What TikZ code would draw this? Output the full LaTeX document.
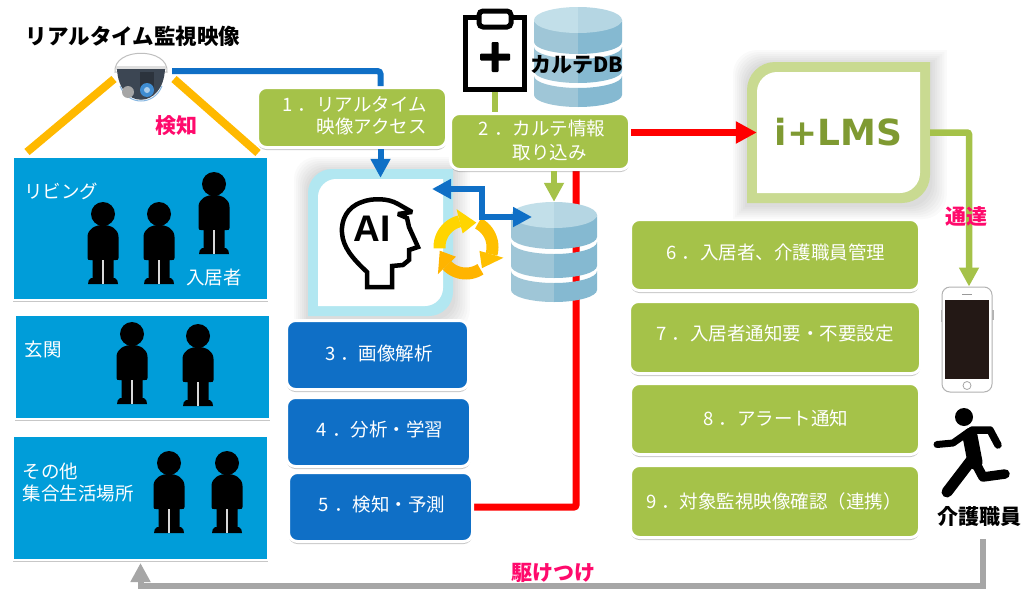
\documentclass[tikz,border=0pt]{standalone}
\usepackage{fontspec}
\setmainfont{Noto Sans CJK JP}
\newfontfamily\lmsfont{DejaVu Sans}
\newfontfamily\aifont{Liberation Sans}
\usetikzlibrary{arrows.meta,shadows,calc}
\pgfdeclarelayer{back}
\pgfsetlayers{back,main}
\definecolor{cgreen}{HTML}{A5C249}
\definecolor{cblue}{HTML}{0F6FC6}
\definecolor{croom}{HTML}{009DD9}
\definecolor{cpink}{HTML}{FF0A6C}
\definecolor{cai}{HTML}{B2E7F1}
\definecolor{clms}{HTML}{C9DA91}
\definecolor{clmstext}{HTML}{7F9A32}
\definecolor{cgray}{HTML}{A6A6A6}
\definecolor{corange}{HTML}{FFB900}
\definecolor{cring}{HTML}{FFD500}
\definecolor{cringb}{HTML}{FFC000}
\definecolor{cringc}{HTML}{FFB400}
\definecolor{cscreen}{HTML}{231815}
\definecolor{cdome}{HTML}{3C4653}
\definecolor{cdomeb}{HTML}{2C333D}
\definecolor{dbtopl}{HTML}{C2DFE9}
\definecolor{dbtopr}{HTML}{B5D6E3}
\definecolor{dbl}{HTML}{9FC6D7}
\definecolor{dbr}{HTML}{85B9D1}
\tikzset{
  boxbase/.style={rounded corners=9pt,draw=white,line width=3pt,inner sep=0pt,text=white,
    font=\fontsize{18.5}{23}\selectfont,align=center,
    drop shadow={shadow xshift=0pt,shadow yshift=-2.5pt,fill=black,opacity=.22}},
  greenbox/.style={boxbase,fill=cgreen},
  bluebox/.style={boxbase,fill=cblue},
  roombox/.style={draw=white,line width=2pt,fill=croom,inner sep=0pt,
    drop shadow={shadow xshift=0pt,shadow yshift=-2pt,fill=black,opacity=.22}},
  roomtext/.style={text=white,inner sep=0pt,align=left,font=\fontsize{18.5}{22}\selectfont},
  pinktext/.style={text=cpink,inner sep=0pt,font=\fontsize{21}{24}\selectfont\bfseries},
  blacktext/.style={text=black,inner sep=0pt,font=\fontsize{21}{24}\selectfont\bfseries},
  blueline/.style={draw=cblue,line width=6pt},
  greenline/.style={draw=cgreen,line width=6.5pt},
  redline/.style={draw=red,line width=7pt},
  grayline/.style={draw=cgray,line width=6pt},
  orangeline/.style={draw=corange,line width=8pt},
  bighead/.style={-{Triangle[length=19pt,width=19pt]}},
  person/.pic={
    \fill[black] (0,0) circle [radius=12];
    \fill[black] (-15.5,44) -- (-15.5,23) .. controls (-15.5,15) and (-8,11) .. (0,11)
      .. controls (8,11) and (15.5,15) .. (15.5,23) -- (15.5,44) .. controls (15.5,46) and (14,46) .. (13,46)
      -- (10.5,46) -- (10.5,64) -- (12,64) .. controls (14,65) and (15,67) .. (15,70)
      -- (-15,70) .. controls (-15,67) and (-14,65) .. (-12,64) -- (-10.5,64) -- (-10.5,46)
      -- (-13,46) .. controls (-14,46) and (-15.5,46) .. (-15.5,44) -- cycle;
    \fill[gray!30] (-.6,46) rectangle (.6,70);
  }
}
\newcommand\leafshape[6]{%
  \path[#6] ({#1+#5},#2) -- (#3,#2) -- (#3,{#4-#5})
    .. controls (#3,{#4-.45*#5}) and ({#3-.45*#5},#4) .. ({#3-#5},#4)
    -- (#1,#4) -- (#1,{#2+#5})
    .. controls (#1,{#2+.45*#5}) and ({#1+.45*#5},#2) .. cycle;}
\newcommand\softshadow[5]{%
  \foreach \sh in {1,...,7}{%
    \leafshape{#1-2*\sh}{#2-2*\sh+2}{#3+2.4*\sh}{#4+2*\sh+2}{#5}{fill=black,fill opacity=.02}}}
\newcommand\dbslice[5]{%
  \fill[dbl] ({#1-#2},#4) -- ({#1-#2},#5) .. controls ({#1-#2},{#5+.55*#3}) and ({#1-.55*#2},{#5+#3}) .. (#1,{#5+#3})
    -- (#1,{#4+#3}) .. controls ({#1-.55*#2},{#4+#3}) and ({#1-#2},{#4+.55*#3}) .. cycle;
  \fill[dbr] ({#1+#2},#4) -- ({#1+#2},#5) .. controls ({#1+#2},{#5+.55*#3}) and ({#1+.55*#2},{#5+#3}) .. (#1,{#5+#3})
    -- (#1,{#4+#3}) .. controls ({#1+.55*#2},{#4+#3}) and ({#1+#2},{#4+.55*#3}) .. cycle;}
\newcommand\dbtop[4]{%
  \begin{scope}\clip ({#1-#2-1},{#3-#4-1}) rectangle (#1,{#3+#4+1});
    \fill[dbtopl] (#1,#3) ellipse [x radius=#2,y radius=#4];\end{scope}
  \begin{scope}\clip (#1,{#3-#4-1}) rectangle ({#1+#2+1},{#3+#4+1});
    \fill[dbtopr] (#1,#3) ellipse [x radius=#2,y radius=#4];\end{scope}}
\newcommand\ringarrow[4]{%
  \draw[#4,line width=12pt] plot[domain=#1:#2,samples=16] ({466+26.5*cos(\x)},{247+26.5*sin(\x)});
  \fill[#4] ({466+14*cos(#2)},{247+14*sin(#2)}) -- ({466+39*cos(#2)},{247+39*sin(#2)})
    -- ({466+26.5*cos(#3)},{247+26.5*sin(#3)}) -- cycle;}
\begin{document}
\begin{tikzpicture}[x=1pt,y=-1pt]
\useasboundingbox (0,0) rectangle (1024,589);
\begin{pgfonlayer}{back}
  \fill[white] (0,0) rectangle (1024,589);
\end{pgfonlayer}

% rooms
\node[roombox,minimum width=255pt,minimum height=143pt] (room1) at (140.5,228.5) {};
\node[roombox,minimum width=255pt,minimum height=104pt] (room2) at (142.5,367) {};
\node[roombox,minimum width=255pt,minimum height=124pt] (room3) at (140.5,498) {};
\pic at (103,214) {person};
\pic at (159,214) {person};
\pic at (214,184) {person};
\pic at (132,334) {person};
\pic at (198,336) {person};
\pic at (169,463) {person};
\pic at (227,463) {person};
\node[roomtext,anchor=west] (lblliving) at (24,191) {リビング};
\node[roomtext] (lblresident) at (214,277) {入居者};
\node[roomtext,anchor=west] (lblentry) at (24.5,350) {玄関};
\node[roomtext,anchor=west] (lblother) at (22.5,483) {その他\\集合生活場所};

% title and camera
\node[blacktext,font=\fontsize{21.5}{24}\selectfont\bfseries] (title) at (133,36) {リアルタイム監視映像};
\node[inner sep=0pt,minimum width=54pt,minimum height=48pt] (camera) at (141,78) {};
\draw[draw=gray!50,fill=white,line width=1pt] (115,72) .. controls (113,47) and (169,47) .. (167,72) -- cycle;
\fill[gray!25] (116,66) rectangle (166,70);
\fill[cdome] (117,69) .. controls (119,110) and (163,110) .. (165,69) -- cycle;
\draw[draw=cblue!50,line width=1pt] (120,86) .. controls (128,106) and (154,106) .. (162,86);
\fill[cdomeb] (140,72) rectangle (154,88);
\fill[gray!70] (128,92) circle [radius=6];
\fill[cblue!80] (147,90) circle [radius=7];
\fill[cblue!35] (147,90) circle [radius=3];

\coordinate (camport) at (172,71);
\coordinate (viewLa) at (114,79);
\coordinate (viewLb) at (27,152);
\coordinate (viewRa) at (174,79);
\coordinate (viewRb) at (258,153);
\draw[orangeline] (viewLa) -- (viewLb);
\draw[orangeline] (viewRa) -- (viewRb);
\node[pinktext] (lbldetect) at (176,126) {検知};

% AI box
\softshadow{308}{169}{453}{316}{22}
\leafshape{308}{169}{453}{316}{24}{fill=cai}
\leafshape{318}{179}{443}{306}{18}{fill=white}
\node[inner sep=0pt,minimum width=145pt,minimum height=147pt] (ai) at (380.5,242.5) {};
\draw[black,line width=4.5pt,line join=miter,miter limit=3]
  (367,287) -- (392,287) -- (392,266) -- (403,265) -- (409,260) -- (409,250) -- (418,247) -- (409,227)
  -- (407,218) -- (398,214) -- (412,212) -- (398,204)
  .. controls (388,198) and (372,198) .. (362,202) .. controls (347,207) and (341,220) .. (342,233)
  .. controls (343,247) and (352,258) .. (367,272) -- cycle;
\node[inner sep=0pt,text=black,font=\aifont\bfseries\fontsize{37}{37}\selectfont] (aitext) at (372,229) {AI};

\ringarrow{177}{256}{293}{cring}
\ringarrow{297}{376}{413}{cringb}
\ringarrow{57}{136}{172}{cringc}

% databases
\node[inner sep=0pt,minimum width=86pt,minimum height=100pt] (db2) at (554,252) {};
\dbslice{554}{43}{12}{215}{237}
\dbslice{554}{43}{12}{242}{266}
\dbslice{554}{43}{12}{271}{290}
\dbtop{554}{43}{215}{13}
\node[inner sep=0pt,minimum width=88pt,minimum height=100pt] (db1) at (578,57) {};
\dbslice{578}{44}{12}{20}{42}
\dbslice{578}{44}{12}{47}{71}
\dbslice{578}{44}{12}{76}{95}
\dbtop{578}{44}{20}{13}

% clipboard
\node[inner sep=0pt,minimum width=64pt,minimum height=77pt] (clip) at (495,53.5) {};
\draw[black,line width=5pt] (clip.north west) ++(2.5,2.5) rectangle ($(clip.south east)+(-2.5,-2.5)$);
\draw[black,fill=white,line width=5pt,rounded corners=4pt] (479,11) rectangle (511,27);
\fill[black,rounded corners=1pt] (480,53.5) rectangle (510,60.5);
\fill[black,rounded corners=1pt] (491.5,42) rectangle (498.5,72);

% process boxes
\node[greenbox,minimum width=189pt,minimum height=60pt] (b1) at (352,117.5) {};
\node[anchor=east,inner sep=0pt,text=white,align=right,font=\fontsize{18.5}{22}\selectfont] (b1text) at (427,116) {1\kern5pt．リアルタイム\\映像アクセス};
\node[greenbox,minimum width=179pt,minimum height=56pt] (b2) at (540,141.5) {};
\node[inner sep=0pt,text=white,align=center,font=\fontsize{18.5}{24}\selectfont] (b2text) at (542,140) {2\kern5pt．カルテ情報\\\hspace*{15pt}取り込み};
\node[bluebox,minimum width=182pt,minimum height=69pt] (b3) at (377.5,355) {};
\node[inner sep=0pt,text=white,font=\fontsize{18.5}{22}\selectfont] (b3text) at (379,353) {3\kern5pt．画像解析};
\node[bluebox,minimum width=184pt,minimum height=69pt] (b4) at (378.5,432) {};
\node[inner sep=0pt,text=white,font=\fontsize{18.5}{22}\selectfont] (b4text) at (380,429) {4\kern5pt．分析・学習};
\node[bluebox,minimum width=184pt,minimum height=69pt] (b5) at (380.5,507) {};
\node[inner sep=0pt,text=white,font=\fontsize{18.5}{22}\selectfont] (b5text) at (382,504) {5\kern5pt．検知・予測};
\node[greenbox,minimum width=289pt,minimum height=71pt] (b6) at (775,255) {};
\node[inner sep=0pt,text=white,font=\fontsize{18.5}{22}\selectfont] (b6text) at (776,252) {6\kern5pt．入居者、介護職員管理};
\node[greenbox,minimum width=291pt,minimum height=72pt] (b7) at (775,337.5) {};
\node[inner sep=0pt,text=white,font=\fontsize{18.5}{22}\selectfont] (b7text) at (775,334) {7\kern5pt．入居者通知要・不要設定};
\node[greenbox,minimum width=289pt,minimum height=71pt] (b8) at (775,419) {};
\node[inner sep=0pt,text=white,font=\fontsize{18.5}{22}\selectfont] (b8text) at (776,418) {8\kern5pt．アラート通知};
\node[greenbox,minimum width=289pt,minimum height=72pt] (b9) at (775,501.5) {};
\node[inner sep=0pt,text=white,font=\fontsize{18.5}{22}\selectfont] (b9text) at (774,501) {9\kern5pt．対象監視映像確認（連携）};

% i+LMS
\softshadow{747}{62}{930}{203}{24}
\leafshape{747}{62}{930}{203}{28}{fill=clms}
\leafshape{757}{72}{920}{193}{20}{fill=white}
\node[inner sep=0pt,minimum width=183pt,minimum height=141pt,text=clmstext,
  font=\lmsfont\bfseries\fontsize{36}{36}\selectfont] (lms) at (838.5,132.5) {i+LMS};

% phone
\draw[gray!60,line width=2pt] (941.5,310) -- (941.5,322) (992.5,310) -- (992.5,320);
\node[draw=gray!60,fill=white,line width=1pt,rounded corners=8pt,inner sep=0pt,minimum width=50pt,minimum height=105pt] (phone) at (967,339.5) {};
\fill[cscreen] (945,300) rectangle (989,379);
\draw[gray!70,line width=.8pt] (967,385.5) circle [radius=4];
\draw[gray!80,line width=1pt] (962,294) -- (972,294);

% runner
\fill[black] (964,417) circle [radius=9];
\draw[black,line width=15pt,line cap=round] (970,436) -- (975,462);
\draw[black,line width=7pt,line cap=round,line join=round] (970,431) -- (953,443) -- (937,444.5);
\draw[black,line width=7.5pt,line cap=round,line join=round] (972,430) -- (990,430) -- (998,445);
\draw[black,line width=9.5pt,line cap=round,line join=round] (975,462) -- (983,477) -- (1005,474);
\draw[black,line width=11pt,line cap=round] (973,458) -- (947,492);
\node[blacktext] (staff) at (979,517) {介護職員};

% connectors
\coordinate (redtop) at (576,165);
\coordinate (aiport) at (432,189);
\coordinate (dbport) at (532,217);
\coordinate (grayfrom) at (983,539);
\begin{pgfonlayer}{back}
  \draw[redline,rounded corners=2pt] (b5.east) -| (redtop);
\end{pgfonlayer}
\draw[blueline,rounded corners=3pt] (camport) -| (b1.north -| ai.north);
\draw[blueline,bighead] (b1.south -| ai.north) -- ([yshift=-9pt]ai.north);
\draw[blueline,{Triangle[length=19pt,width=19pt]}-{Triangle[length=19pt,width=19pt]}] (aiport) -- +(50,0) |- (dbport);
\draw[greenline] (clip.south) -- (b2.north -| clip.south);
\draw[greenline,bighead] (b2.south -| db2.north) -- (db2.north);
\draw[redline,-{Triangle[length=21pt,width=21pt]}] (b2.east |- lms.west) -- ([xshift=10pt]lms.west);
\draw[greenline,bighead,rounded corners=2pt] (lms.east) -| ([xshift=2pt]phone.north);
\draw[grayline,bighead] (grayfrom) -- ++(0,47) -| ([yshift=-2pt]room3.south);
\node[pinktext] (lblnotify) at (966,216) {通達};
\node[pinktext] (lblrush) at (553,573) {駆けつけ};
\node[blacktext] (lbldb) at (577,65) {カルテDB};
\end{tikzpicture}
\end{document}
